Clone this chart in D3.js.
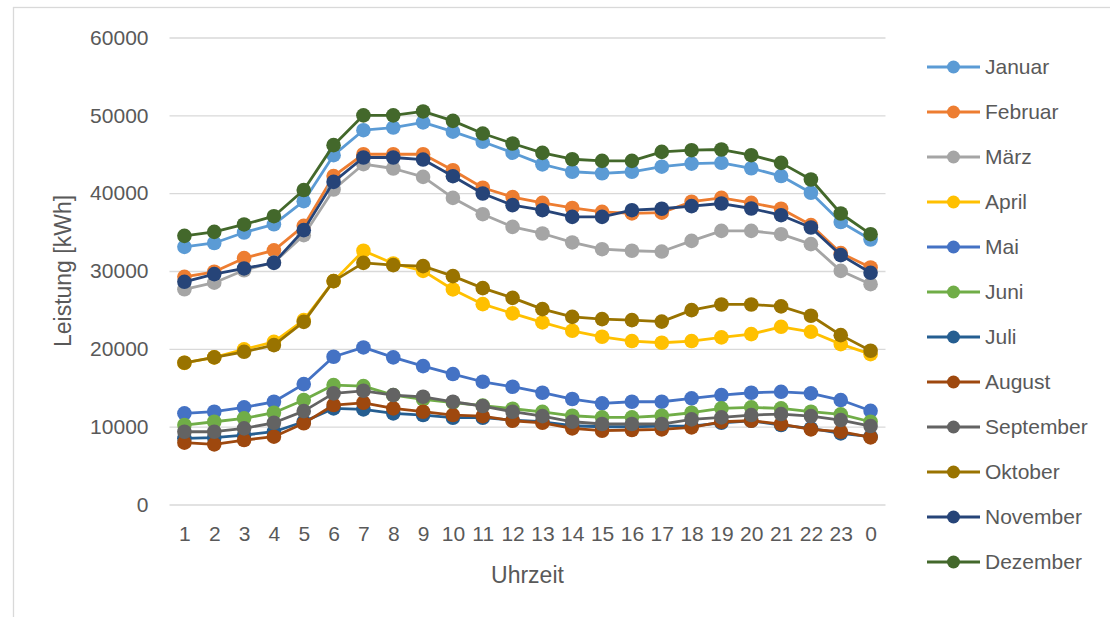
<!DOCTYPE html>
<html>
<head>
<meta charset="utf-8">
<script src="https://cdn.jsdelivr.net/npm/d3@7"></script>
<style>
  body { margin: 0; background: #ffffff; }
  text { font-family: "Liberation Sans", Arial, sans-serif; fill: #595959; }
</style>
</head>
<body>
<script>

// hours of the day, 1 .. 23 then 0
const hours = ["1","2","3","4","5","6","7","8","9","10","11","12","13","14","15","16","17","18","19","20","21","22","23","0"];

const months = ["Januar","Februar","März","April","Mai","Juni","Juli","August","September","Oktober","November","Dezember"];
const colors = ["#5b9bd5","#ed7d31","#a5a5a5","#ffc000","#4472c4","#70ad47","#255e91","#9e480e","#636363","#997300","#264478","#43682b"];

const yTicks = [0, 10000, 20000, 30000, 40000, 50000, 60000];

// leistung per stunde (kWh)
const januar    = [33100,33600,34950,36000,38970,44880,48090,48430,49100,47900,46600,45200,43700,42750,42550,42750,43400,43800,43900,43200,42200,40050,36300,34050];
const februar   = [29250,29900,31650,32650,35800,42200,45000,45000,45000,42950,40700,39500,38750,38100,37600,37400,37500,38900,39400,38750,38000,35900,32300,30450];
const maerz     = [27650,28500,30100,31100,34600,40470,43720,43170,42090,39390,37300,35670,34820,33670,32800,32600,32500,33870,35160,35160,34730,33450,30020,28310];
const april     = [18200,18900,19930,20900,23690,28700,32600,30970,30020,27630,25740,24550,23390,22320,21550,21000,20780,21000,21470,21890,22830,22190,20610,19320];
const mai       = [11710,11920,12480,13200,15470,18980,20180,18900,17780,16760,15770,15130,14360,13550,12990,13200,13200,13640,14060,14360,14480,14280,13420,12040];
const juni      = [10210,10630,11070,11790,13420,15340,15210,14060,13510,13100,12700,12300,11900,11400,11200,11200,11400,11790,12350,12480,12350,11920,11580,10630];
const juli      = [8500,8580,8920,9350,10630,12350,12220,11710,11490,11150,11150,10850,10630,10120,9990,9990,10060,10080,10500,10760,10210,9780,9140,8710];
const august    = [7940,7730,8280,8710,10430,12780,13070,12350,11920,11490,11360,10760,10500,9780,9480,9570,9650,9910,10630,10760,10340,9650,9350,8630];
const september = [9350,9350,9780,10500,12000,14280,14610,14060,13840,13200,12650,11920,11360,10630,10340,10340,10340,10940,11200,11490,11620,11360,10850,10080];
const oktober   = [18210,18900,19620,20480,23470,28700,31050,30750,30620,29340,27800,26550,25100,24110,23820,23690,23500,24970,25700,25700,25450,24250,21760,19750];
const november  = [28610,29600,30330,31050,35250,41450,44580,44580,44320,42180,39960,38460,37810,36950,36950,37810,38000,38330,38670,38030,37170,35590,32040,29770];
const dezember  = [34515,35030,35980,37040,40400,46170,50000,50000,50500,49290,47660,46380,45180,44360,44150,44150,45300,45520,45610,44880,43890,41760,37390,34730];

const series = [januar, februar, maerz, april, mai, juni, juli, august, september, oktober, november, dezember];

function init() {

  const cs = { x: 1110, y: 617 }; // canvas size
  const plot = { left: 169.5, right: 885.5, top: 37.5, bottom: 504.5 };

  const svg = d3.select("body").append("svg")
    .attr("width", cs.x)
    .attr("height", cs.y)
  ;

  // chart frame (only top and left show inside the picture)
  svg.append("rect")
    .attr("x", 13.5)
    .attr("y", 7.5)
    .attr("width", cs.x + 20)
    .attr("height", cs.y + 20)
    .attr("fill", "none")
    .attr("stroke", "#d9d9d9")
    .attr("stroke-width", 1.3)
  ;

  const x = d3.scalePoint()
    .domain(hours)
    .range([plot.left, plot.right])
    .padding(0.5)
  ;

  const y = d3.scaleLinear()
    .domain([0, 60000])
    .range([plot.bottom, plot.top])
  ;

  // y axis with gridlines
  const gy = svg.append("g")
    .attr("transform", `translate(${plot.left},0)`)
    .call(d3.axisLeft(y)
      .tickValues(yTicks)
      .tickSize(-(plot.right - plot.left))
      .tickPadding(21)
      .tickFormat(d3.format("d")))
  ;
  gy.select(".domain").remove();
  gy.selectAll(".tick line")
    .attr("stroke", "#d9d9d9")
    .attr("stroke-width", 1.3)
  ;
  gy.selectAll(".tick text")
    .attr("font-size", 21)
    .attr("fill", "#595959")
    .style("font-family", "'Liberation Sans', Arial, sans-serif")
  ;

  // x axis, labels only
  const gx = svg.append("g")
    .attr("transform", `translate(0,${plot.bottom})`)
    .call(d3.axisBottom(x).tickSize(0).tickPadding(22))
  ;
  gx.select(".domain").remove();
  gx.selectAll(".tick text")
    .attr("font-size", 21)
    .attr("fill", "#595959")
    .style("font-family", "'Liberation Sans', Arial, sans-serif")
  ;

  // axis titles
  svg.append("text")
    .attr("x", (plot.left + plot.right) / 2)
    .attr("y", 583)
    .attr("text-anchor", "middle")
    .attr("font-size", 23)
    .text("Uhrzeit")
  ;
  svg.append("text")
    .attr("transform", `translate(71,${(plot.top + plot.bottom) / 2}) rotate(-90)`)
    .attr("text-anchor", "middle")
    .attr("font-size", 23)
    .text("Leistung [kWh]")
  ;

  // lines + markers, januar first so dezember lies on top
  const line = d3.line()
    .x((d, i) => x(hours[i]))
    .y(d => y(d))
  ;

  series.forEach((vals, k) => {
    const g = svg.append("g");
    g.append("path")
      .datum(vals)
      .attr("d", line)
      .attr("fill", "none")
      .attr("stroke", colors[k])
      .attr("stroke-width", 2.8)
      .attr("stroke-linejoin", "round")
    ;
    g.selectAll("circle")
      .data(vals)
      .join("circle")
      .attr("cx", (d, i) => x(hours[i]))
      .attr("cy", d => y(d))
      .attr("r", 7.3)
      .attr("fill", colors[k])
    ;
  });

  // legend
  const lg = svg.append("g");
  months.forEach((m, k) => {
    const ly = 67 + k * 45;
    lg.append("line")
      .attr("x1", 927)
      .attr("x2", 980)
      .attr("y1", ly)
      .attr("y2", ly)
      .attr("stroke", colors[k])
      .attr("stroke-width", 2.8)
    ;
    lg.append("circle")
      .attr("cx", 953.5)
      .attr("cy", ly)
      .attr("r", 6.5)
      .attr("fill", colors[k])
    ;
    lg.append("text")
      .attr("x", 985)
      .attr("y", ly)
      .attr("dy", "0.35em")
      .attr("font-size", 21)
      .text(m)
    ;
  });
}

init();
</script>
</body>
</html>
